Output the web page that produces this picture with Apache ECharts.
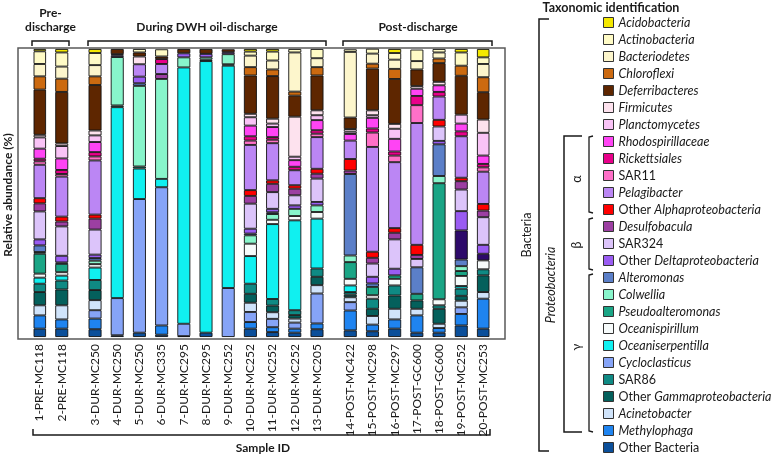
<!DOCTYPE html>
<html>
<head>
<meta charset="utf-8">
<script src="https://cdn.jsdelivr.net/npm/echarts@6/dist/echarts.min.js"></script>
<style>html,body{margin:0;padding:0;background:#fff;}#c{width:777px;height:458px;}</style>
</head>
<body>
<div id="c"></div>
<script>
// ---------- DATA ----------
const samples = ['1-PRE-MC118','2-PRE-MC118','3-DUR-MC250','4-DUR-MC250','5-DUR-MC250','6-DUR-MC335','7-DUR-MC295','8-DUR-MC295','9-DUR-MC252','10-DUR-MC252','11-DUR-MC252','12-DUR-MC252','13-DUR-MC205','14-POST-MC422','15-POST-MC298','16-POST-MC297','17-POST-GC600','18-POST-GC600','19-POST-MC252','20-POST-MC253'];
const groupSizes = [2, 11, 7];

// relative abundance (%) per taxon, one value per sample (stack order: top -> bottom)
const acidobacteria      = [0.8,1.2,1.4,0,0,0,0,0,0,0.9,0.9,0,0,0,0,1.4,0,0,1.2,2.9];
const actinobacteria     = [4.4,4.9,4.2,0,1.2,2.5,0,0,0,1.4,3.1,1.2,3.2,0.9,1.7,2.3,4.0,1.2,4.6,2.3];
const bacteriodetes      = [4.3,4.2,3.9,0,0,0,0,0,0,4.0,3.1,13.6,3.1,22.8,3.5,3.2,2.9,2.1,0,4.6];
const chloroflexi        = [4.6,4.6,3.0,0,0,0,0,0,0,2.9,2.3,1.4,2.9,0,1.7,3.5,0,1.6,3.5,5.2];
const deferribacteres    = [15.7,17.9,15.8,1.8,1.4,0.9,1.5,1.7,1.0,13.3,14.8,7.3,12.1,4.0,14.5,15.6,5.8,6.5,13.5,9.5];
const firmicutes         = [0.9,0.9,1.7,0,2.7,0,0,0,0,1.2,1.7,13.9,1.7,0.9,1.7,1.7,0.9,1.2,0,4.6];
const planctomycetes     = [3.9,4.3,2.3,0,0,0,0,0,0,2.9,1.2,1.2,1.7,0.8,0.9,3.5,0,0,3.1,7.9];
const rhodospirillaceae  = [3.5,4.0,3.5,0,0,0,0,0,0,3.7,3.5,2.3,3.5,2.3,3.7,4.4,2.5,2.3,2.7,2.9];
const rickettsiales      = [0.9,1.4,1.5,0,0,1.7,0,0,0,1.5,0.9,1.2,1.2,0,1.4,1.4,3.2,1.6,1.7,1.2];
const sar11              = [1.2,0.9,1.4,0,0,0,0,0,0,1.5,1.2,0,1.2,0,5.0,2.3,6.2,0,0,1.5];
const pelagibacter       = [11.6,13.9,18.8,0.4,4.3,3.5,0,0,0,15.7,12.9,5.2,11.0,6.4,36.4,22.9,42.3,8.1,14.4,11.2];
const otherAlpha         = [1.8,1.7,1.4,0,0,0,0,0,0,2.0,1.2,1.2,1.7,4.0,2.1,1.6,3.5,2.3,1.2,2.3];
const desulfobacula      = [2.8,1.7,3.8,0,0,1.7,0,0,0,2.7,2.9,2.3,1.7,1.2,2.0,2.3,1.4,0,2.9,2.3];
const sar324             = [9.7,10.2,8.7,0,0,0,0,0,0,8.7,5.8,3.5,8.1,0,4.6,10.2,2.9,5.0,7.5,9.6];
const otherDelta         = [2.1,2.3,1.2,0.6,2.3,0,1.4,1.2,0.7,1.7,1.2,1.2,1.2,0,2.3,2.3,0,1.2,6.7,3.1];
const unlabeledDark      = [0,0,0,0,0,0,0,0,0,0,0,0,0,0,0,0,0,0,10.1,2.3];
const alteromonas        = [2.3,0.5,0.9,0,0.9,0,0,0,0,0.6,0.6,0,0,28.3,1.2,0,9.2,11.0,2.3,0];
const colwellia          = [0.6,0,1.2,16.8,28.0,34.7,3.5,0.8,3.5,2.9,2.0,2.5,2.3,2.3,0,0,0,2.5,1.7,0];
const pseudoalteromonas  = [6.9,2.9,0,0.6,0.7,0,0,0.5,0.5,0,0,0,0,5.8,2.9,1.2,2.3,40.3,1.7,0];
const oceanispirillum    = [1.4,1.2,1.2,0,0,0,0,0,0,4.3,1.5,1.5,2.3,2.3,1.2,2.3,0,2.1,3.5,3.1];
const oceaniserpentilla  = [2.1,1.7,4.3,66.3,10.6,2.9,89.0,94.3,77.2,9.6,26.0,31.2,17.3,2.3,0,0,0,0,0.9,0];
const sar86              = [2.9,3.1,3.5,0,0,0,0,0,0,3.5,2.3,1.7,2.9,0.9,3.5,3.5,0,1.2,2.5,2.1];
const otherGamma         = [4.6,5.5,3.5,0,0,0,0,0,0,3.1,2.3,1.2,2.9,0.9,2.5,4.6,2.9,5.2,1.7,5.8];
const acinetobacter      = [3.5,4.9,3.5,0,0,0,0,0,0,3.2,2.3,1.4,2.9,1.7,3.0,3.7,2.3,1.5,2.3,2.3];
const cycloclasticus     = [0,0,2.9,12.9,46.4,48.0,4.3,0,17.0,3.5,2.9,2.1,10.4,2.9,0,0,0,0,2.3,0];
const methylophaga       = [4.6,3.2,3.7,0,0,3.2,0,0,0,2.3,1.7,1.4,2.0,6.9,2.3,3.2,6.0,1.6,4.0,10.4];
const otherBacteria      = [2.9,2.9,2.7,0.6,1.5,0.8,0.3,1.5,0,2.9,1.7,1.5,2.7,2.3,2.0,2.9,1.5,1.5,4.0,2.9];

// taxa: [name, values, color, legend label parts (n = normal, i = italic)]
const taxa = [
  ['Acidobacteria', acidobacteria, '#f4e800', [['i','Acidobacteria']]],
  ['Actinobacteria', actinobacteria, '#fffbc6', [['i','Actinobacteria']]],
  ['Bacteriodetes', bacteriodetes, '#fdf6cc', [['i','Bacteriodetes']]],
  ['Chloroflexi', chloroflexi, '#cc6a10', [['i','Chloroflexi']]],
  ['Deferribacteres', deferribacteres, '#5e2600', [['i','Deferribacteres']]],
  ['Firmicutes', firmicutes, '#fde2ee', [['i','Firmicutes']]],
  ['Planctomycetes', planctomycetes, '#f9c3f6', [['i','Planctomycetes']]],
  ['Rhodospirillaceae', rhodospirillaceae, '#ff44f4', [['i','Rhodospirillaceae']]],
  ['Rickettsiales', rickettsiales, '#e8008a', [['i','Rickettsiales']]],
  ['SAR11', sar11, '#ff70c8', [['n','SAR11']]],
  ['Pelagibacter', pelagibacter, '#bb86f4', [['i','Pelagibacter']]],
  ['Other Alphaproteobacteria', otherAlpha, '#ff0000', [['n','Other '],['i','Alphaproteobacteria']]],
  ['Desulfobacula', desulfobacula, '#9c3fa2', [['i','Desulfobacula']]],
  ['SAR324', sar324, '#dcc4fa', [['n','SAR324']]],
  ['Other Deltaproteobacteria', otherDelta, '#9a5cf2', [['n','Other '],['i','Deltaproteobacteria']]],
  ['Unlabeled', unlabeledDark, '#2d0a6a', null],
  ['Alteromonas', alteromonas, '#5b7fc8', [['i','Alteromonas']]],
  ['Colwellia', colwellia, '#88f5cb', [['i','Colwellia']]],
  ['Pseudoalteromonas', pseudoalteromonas, '#1aa585', [['i','Pseudoalteromonas']]],
  ['Oceanispirillum', oceanispirillum, '#f7fbfb', [['i','Oceanispirillum']]],
  ['Oceaniserpentilla', oceaniserpentilla, '#10f0f0', [['i','Oceaniserpentilla']]],
  ['SAR86', sar86, '#0f8a84', [['n','SAR86']]],
  ['Other Gammaproteobacteria', otherGamma, '#04605c', [['n','Other '],['i','Gammaproteobacteria']]],
  ['Acinetobacter', acinetobacter, '#d0e4fb', [['i','Acinetobacter']]],
  ['Cycloclasticus', cycloclasticus, '#86a4f7', [['i','Cycloclasticus']]],
  ['Methylophaga', methylophaga, '#1f84f0', [['i','Methylophaga']]],
  ['Other Bacteria', otherBacteria, '#0b4f9a', [['n','Other Bacteria']]]
];
const legendOrder = ['Acidobacteria','Actinobacteria','Bacteriodetes','Chloroflexi','Deferribacteres','Firmicutes','Planctomycetes','Rhodospirillaceae','Rickettsiales','SAR11','Pelagibacter','Other Alphaproteobacteria','Desulfobacula','SAR324','Other Deltaproteobacteria','Alteromonas','Colwellia','Pseudoalteromonas','Oceanispirillum','Oceaniserpentilla','Cycloclasticus','SAR86','Other Gammaproteobacteria','Acinetobacter','Methylophaga','Other Bacteria'];

// ---------- BUILD ----------
const slots = [];
const groupEnds = [];
let acc = 0; groupSizes.forEach(g => { acc += g; groupEnds.push(acc - 1); });
samples.forEach((s, i) => {
  slots.push(i);
  if (i < samples.length - 1) {
    slots.push(-1);
    if (groupEnds.indexOf(i) >= 0) slots.push(-1);
  }
});
const cats = slots.map((k, j) => k >= 0 ? samples[k] : ' '.repeat(j % 7 + 1));

const FONT = 'Lato, "Liberation Sans", sans-serif';
const series = taxa.slice().reverse().map(t => ({
  name: t[0], type: 'bar', stack: 'all', barWidth: 13,
  xAxisIndex: 0, yAxisIndex: 0,
  itemStyle: { color: t[2], borderColor: '#111', borderWidth: 0.9 },
  emphasis: { disabled: true },
  data: slots.map(k => (k >= 0 && t[1][k] > 0) ? t[1][k] : null)
}));
const labelMap = {}; taxa.forEach(t => { if (t[3]) labelMap[t[0]] = t[3]; });

// ---------- GRAPHICS (annotations) ----------
const g = [];
function txt(text, x, y, opt) {
  opt = opt || {};
  g.push({ type: 'text', x: x, y: y, rotation: opt.rot || 0,
    style: { text: text, x: 0, y: 0, textAlign: 'center', textVerticalAlign: 'middle',
      font: (opt.style || '') + ' ' + (opt.weight || 'normal') + ' ' + (opt.size || 12) + 'px ' + FONT,
      fill: '#1a1a1a' } });
}
function line(pts, w) {
  g.push({ type: 'polyline', shape: { points: pts }, style: { stroke: '#1a1a1a', lineWidth: w || 1.5, fill: null } });
}
[[32, 69], [88, 326], [343, 492]].forEach(b => {
  line([[b[0], 46], [b[0], 41], [b[1], 41], [b[1], 46]]);
});
txt('Pre-', 50.5, 13, { weight: 'bold' });
txt('discharge', 50.5, 27, { weight: 'bold' });
txt('During DWH oil-discharge', 207, 27, { weight: 'bold' });
txt('Post-discharge', 418, 27, { weight: 'bold' });
line([[33, 429], [33, 435], [490, 435], [490, 429]]);
txt('Sample ID', 263, 448, { weight: 'bold' });
txt('Relative abundance (%)', 8, 195, { weight: 'bold', rot: Math.PI / 2 });
txt('Taxonomic identification', 611, 8, { weight: 'bold', size: 12.5 });
line([[549, 19], [539, 19], [539, 451], [549, 451]]);
txt('Bacteria', 527, 235, { rot: Math.PI / 2, size: 12.5 });
line([[582, 136], [564, 136], [564, 432], [582, 432]]);
txt('Proteobacteria', 551, 285, { rot: Math.PI / 2, style: 'italic', size: 12.5 });
[[136, 213, 'α', 179], [218, 270, 'β', 245], [274, 432, 'γ', 347]].forEach(s => {
  line([[593, s[0]], [589, s[0] + 1], [589, s[1] - 1], [593, s[1]]], 1.3);
  txt(s[2], 577, s[3], { rot: Math.PI / 2, size: 12.5 });
});

const chart = echarts.init(document.getElementById('c'), null, { renderer: 'canvas' });
chart.setOption({
  animation: false,
  backgroundColor: '#fff',
  grid: [
    { left: 34, top: 49, width: 455, height: 288, show: false },
    { left: 18, top: 48, width: 487, height: 291, show: true, borderColor: '#5a5a5a', borderWidth: 1.5, backgroundColor: 'transparent', z: 0 }
  ],
  xAxis: [
    { type: 'category', gridIndex: 0, data: cats, boundaryGap: true,
      axisLine: { show: false }, axisTick: { show: false }, splitLine: { show: false },
      axisLabel: { interval: 0, rotate: 90, margin: 7, fontSize: 12, fontFamily: FONT, color: '#1a1a1a' } },
    { type: 'value', gridIndex: 1, show: false }
  ],
  yAxis: [
    { type: 'value', gridIndex: 0, min: 0, max: 100, show: false, splitLine: { show: false } },
    { type: 'value', gridIndex: 1, show: false }
  ],
  legend: {
    type: 'plain', orient: 'vertical', left: 603, top: 16, width: 174, height: 440, padding: 0,
    itemWidth: 10, itemHeight: 10, itemGap: 4,
    icon: 'rect', selectedMode: false, data: legendOrder,
    itemStyle: { borderColor: '#333', borderWidth: 1 },
    formatter: function (name) {
      return (labelMap[name] || []).map(p => '{' + p[0] + '|' + p[1] + '}').join('');
    },
    textStyle: {
      color: '#1a1a1a', fontFamily: FONT, fontSize: 12.5,
      rich: {
        i: { fontStyle: 'italic', fontFamily: FONT, fontSize: 12.5, color: '#1a1a1a' },
        n: { fontFamily: FONT, fontSize: 12.5, color: '#1a1a1a' }
      }
    }
  },
  graphic: g,
  series: series
});
</script>
</body>
</html>
